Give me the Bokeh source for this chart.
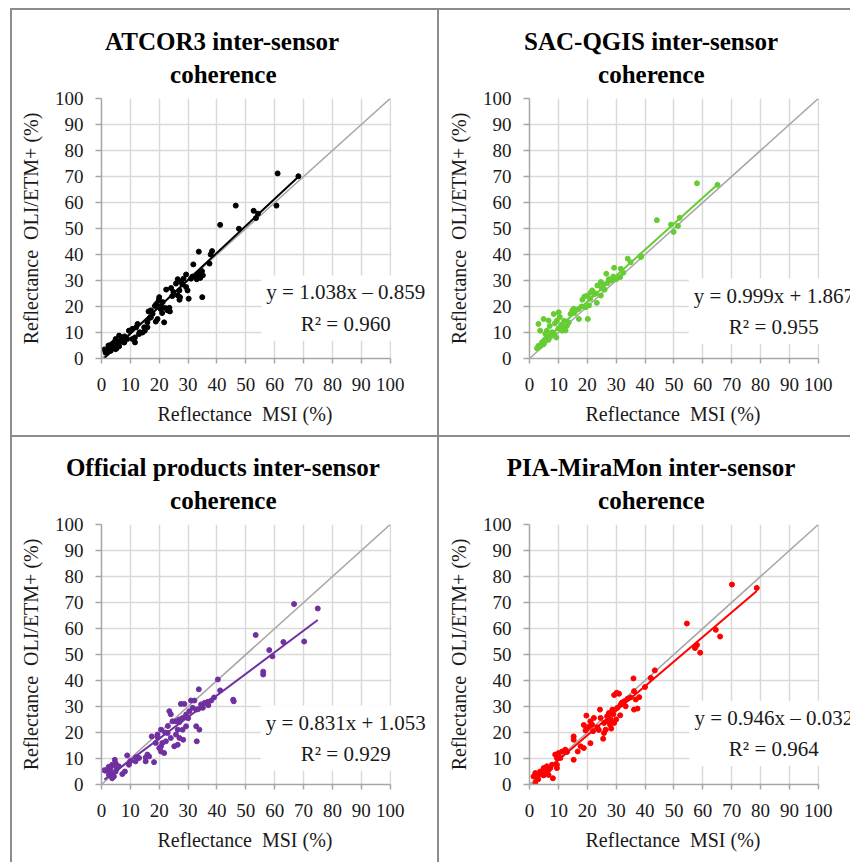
from bokeh.plotting import figure
from bokeh.models import Range1d, FixedTicker, Label, Title, BoxAnnotation
from bokeh.layouts import column, row
from bokeh.embed import file_html
from bokeh.resources import INLINE

# ---------------- data ----------------
ticks = [0, 10, 20, 30, 40, 50, 60, 70, 80, 90, 100]
one_to_one = [0, 100]

titles = ["ATCOR3 inter-sensor", "SAC-QGIS inter-sensor",
          "Official products inter-sensor", "PIA-MiraMon inter-sensor"]
title_line2 = "coherence"
x_label = "Reflectance\u00a0 MSI (%)"
y_label = "Reflectance\u00a0 OLI/ETM+ (%)"

slopes = [1.038, 0.999, 0.831, 0.946]
intercepts = [-0.859, 1.867, 1.053, -0.032]
r_squared = [0.960, 0.955, 0.929, 0.964]
colors = ["#000000", "#66CC33", "#7030A0", "#FF0000"]

atcor_msi = [68.2, 61.0, 60.6, 54.2, 53.5, 52.7, 47.6, 46.5, 41.1, 38.3, 37.8, 37.4, 33.7, 31.8, 35.1, 34.8,
             34.9, 33.7, 32.8, 31.0, 29.3, 28.4, 27.6, 26.4, 25.8, 30.2, 27.0, 27.2, 24.9, 24.1, 29.3, 29.8,
             26.4, 27.0, 22.4, 20.0, 19.8, 21.2, 20.6, 22.1, 22.9, 23.7, 21.7, 19.0, 18.5, 17.1, 16.3, 19.4,
             18.8, 17.1, 17.7, 16.7, 15.9, 15.9, 15.0, 14.8, 14.2, 13.0, 13.2, 12.5, 10.7, 9.5, 9.9, 11.6,
             11.6, 10.7, 8.9, 7.8, 7.2, 6.1, 6.6, 4.9, 4.3, 6.0, 3.7, 4.9, 2.6, 3.1, 2.0, 2.0, 3.2, 5.2,
             6.1, 7.9, 5.5, 1.4, 1.0, 2.4, 3.5, 5.0, 8.0, 12.0, 20.5, 24.5, 31.5, 33.0, 34.2, 23.5, 21.0, 28.0]
atcor_oli = [70.1, 71.2, 58.8, 55.7, 54.0, 56.8, 49.9, 58.8, 51.4, 41.3, 40.0, 36.5, 41.1, 36.2, 32.0, 33.6,
             23.6, 32.7, 31.4, 30.7, 32.3, 30.7, 29.5, 30.5, 28.8, 23.0, 26.2, 23.6, 25.6, 27.1, 27.5, 26.2,
             24.3, 22.6, 26.5, 23.6, 22.4, 21.7, 20.2, 19.4, 18.5, 18.1, 13.9, 21.0, 20.2, 18.5, 18.1, 15.2,
             14.2, 15.9, 17.2, 15.6, 13.9, 12.0, 10.7, 12.0, 10.0, 9.4, 10.1, 13.3, 11.4, 10.7, 10.7, 8.1,
             6.2, 7.5, 7.5, 6.2, 8.1, 8.8, 6.8, 7.5, 6.2, 4.9, 4.9, 3.6, 4.3, 3.0, 3.0, 2.3, 3.0, 3.9,
             4.7, 6.2, 5.6, 2.3, 3.5, 5.0, 5.5, 6.5, 8.5, 12.0, 19.0, 24.0, 31.5, 30.5, 31.0, 19.5, 17.5, 28.5]

sac_msi = [65.1, 58.0, 44.1, 52.0, 51.4, 49.0, 49.9, 38.6, 38.5, 34.0, 35.0, 31.6, 29.3, 26.6, 31.4, 30.0,
           28.5, 27.0, 24.7, 23.5, 25.5, 21.7, 21.2, 20.0, 19.0, 20.6, 19.4, 20.2, 18.3, 23.3, 24.7, 22.5,
           26.0, 15.3, 14.8, 17.1, 14.2, 16.0, 18.0, 10.1, 8.4, 4.9, 6.6, 3.1, 3.7, 6.0, 9.5, 11.9,
           11.3, 12.5, 9.3, 7.2, 5.5, 4.3, 3.1, 2.6, 4.9, 6.6, 7.8, 13.6, 13.0, 10.0, 8.5, 3.5,
           4.0, 5.0, 6.0, 11.0, 12.0, 15.5, 17.0, 21.0, 22.0, 23.0, 25.0, 27.5, 29.0, 32.5, 10.5, 5.5,
           7.0, 8.8]
sac_oli = [66.8, 67.4, 53.2, 54.1, 51.0, 51.5, 48.7, 39.0, 39.5, 38.4, 37.0, 34.5, 34.9, 32.6, 31.3, 30.5,
           30.0, 29.0, 29.4, 28.1, 28.5, 26.2, 25.3, 24.2, 23.8, 20.4, 19.7, 15.2, 22.6, 21.4, 24.2, 24.8,
           26.5, 19.1, 18.4, 15.2, 17.1, 18.5, 20.0, 17.8, 17.1, 15.2, 14.6, 13.3, 10.7, 10.7, 14.6, 12.0,
           10.7, 10.8, 8.1, 8.8, 7.5, 6.2, 4.9, 3.9, 5.5, 7.2, 10.1, 13.9, 12.6, 11.5, 9.5, 4.5,
           5.0, 6.8, 8.0, 13.0, 14.5, 17.5, 19.0, 23.0, 25.5, 25.0, 27.0, 30.5, 31.5, 33.0, 16.0, 9.5,
           12.5, 13.5]

official_msi = [53.4, 45.6, 45.8, 40.3, 41.1, 33.7, 32.8, 33.9, 33.0, 27.5, 28.7, 31.0, 32.2, 31.6, 32.8, 34.5,
                35.7, 36.8, 38.0, 35.1, 30.4, 29.3, 28.1, 26.9, 25.8, 24.6, 24.0, 23.5, 29.3, 28.1, 26.4, 25.8,
                27.0, 28.3, 26.4, 25.2, 24.0, 22.9, 22.3, 21.1, 20.6, 21.7, 20.6, 20.0, 18.8, 17.4, 20.6, 19.4,
                15.9, 16.5, 15.3, 18.2, 15.3, 11.8, 13.0, 8.9, 9.5, 8.1, 7.2, 4.9, 4.6, 3.7, 3.1, 2.0,
                1.4, 2.6, 4.3, 5.5, 6.0, 4.9, 3.7, 66.7, 74.9, 70.2, 63.0, 58.1, 59.2, 56.0, 56.0, 37.0,
                30.0, 27.0, 23.0, 22.0, 19.5, 12.0, 10.0, 5.0, 3.0, 1.0, 2.5, 33.5, 39.0]
official_oli = [57.5, 32.6, 32.0, 40.4, 36.2, 36.6, 22.4, 21.1, 16.6, 31.0, 31.0, 32.3, 32.3, 29.5, 28.8, 30.8,
                31.4, 31.8, 32.3, 29.5, 28.2, 26.9, 25.6, 25.0, 24.3, 24.3, 27.0, 28.2, 22.4, 21.1, 21.1, 19.2,
                17.9, 17.2, 15.3, 14.7, 17.9, 19.8, 16.6, 16.0, 14.7, 12.1, 12.7, 14.0, 16.0, 18.5, 21.1, 19.2,
                11.5, 10.8, 10.4, 8.6, 8.9, 8.9, 10.2, 11.2, 7.6, 5.0, 4.0, 8.2, 9.5, 7.6, 6.3, 5.7,
                5.3, 3.7, 3.1, 6.3, 7.0, 5.0, 2.4, 69.4, 67.7, 55.0, 54.8, 51.7, 49.3, 43.4, 42.3, 30.5,
                25.5, 24.0, 22.5, 20.0, 18.0, 10.5, 9.0, 7.0, 5.0, 5.5, 6.8, 29.0, 33.5]

pia_msi = [70.1, 78.7, 54.5, 57.6, 58.0, 57.3, 59.1, 64.5, 66.0, 43.4, 42.0, 40.0, 36.0, 30.2, 31.0, 29.3,
           36.2, 38.0, 36.8, 37.4, 36.2, 31.4, 32.8, 31.6, 33.3, 30.4, 28.7, 27.5, 26.9, 28.1, 29.3, 27.9,
           28.3, 26.9, 25.8, 25.8, 25.5, 26.4, 24.6, 24.4, 22.3, 21.1, 20.6, 19.8, 18.8, 19.4, 21.7, 21.1,
           19.7, 15.3, 15.3, 17.7, 16.7, 15.3, 18.8, 12.4, 11.3, 10.1, 9.5, 8.9, 10.7, 9.5, 9.5, 7.8,
           7.2, 6.0, 4.9, 5.5, 3.7, 3.1, 2.0, 1.4, 2.0, 8.1, 6.6, 4.9, 34.0, 32.0, 29.0, 27.0,
           23.5, 22.0, 35.0, 30.0, 24.0, 13.0, 6.5, 3.0]
pia_oli = [76.9, 75.6, 61.9, 53.3, 53.7, 52.5, 50.7, 59.5, 56.9, 43.9, 41.0, 37.5, 40.8, 35.3, 34.9, 34.4,
           35.9, 33.6, 32.7, 29.2, 28.8, 26.6, 32.0, 30.8, 30.1, 29.5, 28.8, 27.5, 26.3, 25.0, 23.7, 23.0,
           21.5, 24.3, 23.7, 19.8, 17.6, 21.1, 25.6, 28.8, 25.6, 24.3, 22.2, 21.5, 22.9, 20.8, 23.0, 15.9,
           26.5, 18.5, 17.2, 14.7, 12.7, 9.5, 14.0, 13.4, 12.7, 12.1, 10.2, 11.5, 10.2, 7.6, 6.3, 7.6,
           6.3, 7.0, 6.3, 5.0, 5.0, 3.7, 4.4, 3.1, 0.3, 2.4, 3.7, 3.5, 33.0, 31.5, 27.0, 24.5,
           22.0, 20.5, 33.5, 25.0, 21.0, 12.5, 5.5, 2.0]

msi_sets = [atcor_msi, sac_msi, official_msi, pia_msi]
oli_sets = [atcor_oli, sac_oli, official_oli, pia_oli]

# ---------------- styling / layout ----------------
SERIF = "Liberation Serif"
BORDER = "2px solid #8c8c8c"
GRID = "#d9d9d9"
AXIS = "#a6a6a6"
FRAME_PX = 287          # pixels spanned by 0..100 on the x axis
TITLE_CENTER = 122      # title centre, px right of the frame's left edge
XLABEL_CENTER = 143.5   # x-axis label centre, px right of the frame's left edge
EQ_X = 84.6
EQ_Y = [19.4, 18.2, 17.8, 19.7]

# Times/Liberation Serif advance widths (per 1000 em) for centring left-aligned titles
BOLD_W = {' ': 250, 'A': 722, 'C': 722, 'G': 778, 'I': 389, 'M': 944, 'O': 778, 'P': 611, 'Q': 778,
          'R': 722, 'S': 556, 'T': 667, '3': 500, '-': 333, 'a': 500, 'c': 444, 'd': 556, 'e': 444,
          'f': 333, 'h': 556, 'i': 278, 'l': 278, 'n': 556, 'o': 500, 'p': 556, 'r': 444, 's': 389,
          't': 333, 'u': 556}
REG_W = {' ': 250, '\u00a0': 250, 'R': 667, 'e': 444, 'f': 333, 'l': 278, 'c': 444, 't': 278, 'a': 444,
         'n': 500, 'M': 889, 'S': 556, 'I': 333, '(': 333, '%': 833, ')': 333}


def text_width(s, table, size):
    return sum(table.get(ch, 500) for ch in s) * size / 1000.0


# width, height, min_border left/right/top/bottom for each cell (border-box incl. 2px border)
cells = [
    (427, 427, 89, 2, 88, 79),
    (413, 427, 90, 0, 88, 79),
    (427, 427, 89, 2, 87, 80),
    (413, 427, 90, 0, 87, 80),
]


def equation_text(s, b, r):
    sign = "+" if b >= 0 else "\u2013"
    return f"y = {s:.3f}x {sign} {abs(b):.3f}\nR\u00b2 = {r:.3f}"


def make_panel(i):
    w, h, ml, mr, mt, mb = cells[i]
    frame_w = w - 2 - ml - mr
    x_end = 100.0 * frame_w / FRAME_PX
    p = figure(width=w, height=h,
               x_range=Range1d(0, x_end), y_range=Range1d(0, 100),
               output_backend="svg", toolbar_location=None,
               min_border_left=ml, min_border_right=mr,
               min_border_top=mt, min_border_bottom=mb,
               background_fill_color="white", border_fill_color="white",
               outline_line_color=None,
               styles={"border-left": BORDER, "border-top": BORDER,
                       "box-sizing": "border-box"})

    for ax in (p.xaxis, p.yaxis):
        ax.ticker = FixedTicker(ticks=ticks)
        ax.bounds = (0, 100)
        ax.axis_line_color = AXIS
        ax.axis_line_width = 1.5
        ax.major_tick_line_color = AXIS
        ax.major_tick_line_width = 1.5
        ax.major_tick_in = 0
        ax.minor_tick_line_color = None
        ax.major_label_text_font = SERIF
        ax.major_label_text_font_size = "19px"
        ax.major_label_text_color = "#1a1a1a"
        ax.axis_label_text_font = SERIF
        ax.axis_label_text_font_size = "20px"
        ax.axis_label_text_font_style = "normal"
        ax.axis_label_text_color = "#1a1a1a"
    p.xaxis.major_tick_out = 5
    p.yaxis.major_tick_out = 6
    p.xaxis.major_label_standoff = 14
    p.yaxis.major_label_standoff = 12
    p.yaxis.axis_label_standoff = 10
    p.yaxis.axis_label = y_label

    # x-axis label as a below-title, centred on 0..100
    xw = text_width(x_label, REG_W, 20)
    p.add_layout(Title(text=x_label, align="left", offset=XLABEL_CENTER - xw / 2,
                       text_font=SERIF, text_font_size="20px", text_font_style="normal",
                       text_color="#1a1a1a", standoff=15), "below")

    for g in (p.xgrid, p.ygrid):
        g.ticker = FixedTicker(ticks=ticks)
        g.grid_line_color = GRID
        g.grid_line_width = 1.5

    # white mask for the space right of x = 100 (room for the equation text)
    p.add_layout(BoxAnnotation(left=100.4, fill_color="white", fill_alpha=1.0,
                               line_color=None, level="underlay"))

    xs, ys = msi_sets[i], oli_sets[i]
    col = colors[i]
    p.line(one_to_one, one_to_one, line_color="#a6a6a6", line_width=1.5)
    p.scatter(xs, ys, size=5, fill_color=col, line_color=col)
    x0, x1 = min(xs), max(xs)
    p.line([x0, x1], [slopes[i] * x0 + intercepts[i], slopes[i] * x1 + intercepts[i]],
           line_color=col, line_width=2)

    # two-line bold title (second line nearest the frame)
    for txt, so in ((title_line2, 22), (titles[i], -14)):
        tw = text_width(txt, BOLD_W, 25)
        p.add_layout(Title(text=txt, align="left", offset=TITLE_CENTER - tw / 2,
                           text_font=SERIF, text_font_size="25px", text_font_style="bold",
                           text_color="black", standoff=so), "above")

    # regression equation box
    p.add_layout(Label(x=EQ_X, y=EQ_Y[i], text=equation_text(slopes[i], intercepts[i], r_squared[i]),
                       text_font=SERIF, text_font_size="21px", text_color="#1a1a1a",
                       text_align="center", text_baseline="middle", text_line_height=1.3,
                       background_fill_color="white", padding=5))
    return p


panels = [make_panel(i) for i in range(4)]
layout = column(row(panels[0], panels[1]), row(panels[2], panels[3]))
layout.margin = (8, 0, 0, 10)

open("out.html", "w").write(file_html(layout, INLINE))
